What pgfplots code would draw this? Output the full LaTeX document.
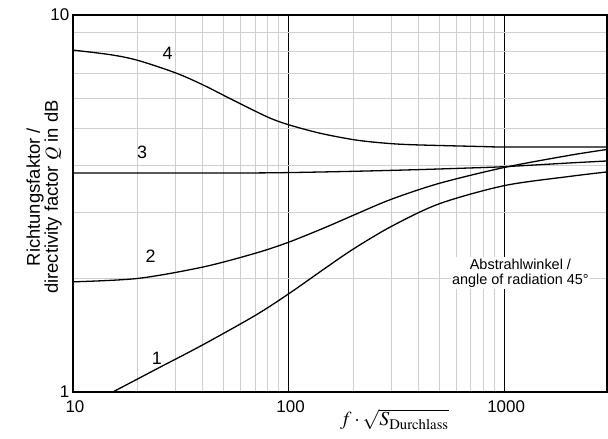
\documentclass[border=0pt]{standalone}
\usepackage{mathptmx}
\usepackage[no-math]{fontspec}
\setmainfont{Liberation Sans}
\usepackage{pgfplots}
\pgfplotsset{compat=1.18}
\begin{document}
\begin{tikzpicture}
\begin{axis}[
  name=ax,
  scale only axis, width=534bp, height=377bp,
  xmode=log, ymode=log,
  xmin=10, xmax=3000, ymin=1, ymax=10,
  xtick={10,100,1000}, xticklabels={10,100,1000},
  ytick={1,10}, yticklabels={1,10},
  /pgf/number format/assume math mode=true,
  major tick length=0pt, minor tick length=0pt,
  grid=both,
  major grid style={black, line width=1.2bp},
  minor grid style={black!19, line width=0.8bp},
  axis line style={line width=1.4bp},
  tick label style={font=\fontsize{17}{17}\selectfont, inner sep=1.5bp},
  xticklabel style={yshift=-7bp, xshift=2bp},
  yticklabel style={xshift=-2bp},
  xlabel={$f\cdot\sqrt{S_{\mathrm{Durchlass}}}$},
  xlabel style={at={(axis description cs:0.5,0)}, anchor=north west, inner sep=0pt, yshift=-17bp, font=\fontsize{20}{20}\selectfont},
  ylabel={Richtungsfaktor /\\directivity factor $Q$ in dB},
  ylabel style={at={(axis description cs:-0.0206,0.517)}, anchor=south, inner sep=0pt, align=center, font=\fontsize{18.5}{17}\selectfont},
  curve/.style={black, line width=1.3bp, smooth, tension=0.5, mark=none},
]
% curve 1
\addplot[curve] coordinates {(15.3,1.0) (25,1.159) (40,1.334) (70,1.596) (100,1.821) (150,2.142) (200,2.396) (300,2.750) (500,3.157) (1000,3.527) (2000,3.73) (3000,3.835)};
% curve 2
\addplot[curve] coordinates {(10,1.96) (20,2.001) (40,2.145) (70,2.333) (100,2.496) (150,2.741) (200,2.944) (300,3.246) (500,3.577) (1000,3.941) (2000,4.242) (3000,4.399)};
% curve 3
\addplot[curve] coordinates {(10,3.81) (30,3.81) (60,3.81) (100,3.82) (200,3.85) (400,3.89) (700,3.93) (1000,3.96) (2000,4.05) (3000,4.10)};
% curve 4
\addplot[curve] coordinates {(10,8.07) (15,7.845) (20,7.58) (30,7.018) (40,6.53) (55,5.955) (80,5.361) (100,5.116) (140,4.857) (200,4.67) (270,4.58) (370,4.529) (800,4.477) (1000,4.467) (3000,4.467)};
\node[font=\fontsize{18}{18}\selectfont] at (axis cs:27.5,7.93) {4};
\node[font=\fontsize{18}{18}\selectfont] at (axis cs:20.9,4.33) {3};
\node[font=\fontsize{18}{18}\selectfont] at (axis cs:22.9,2.29) {2};
\node[font=\fontsize{18}{18}\selectfont] at (axis cs:24.5,1.23) {1};
\node[fill=white, inner sep=1.5bp, align=center, font=\fontsize{14.5}{15}\selectfont] at (axis cs:1190,2.07) {Abstrahlwinkel /\\angle of radiation 45°};
\end{axis}
\pgfresetboundingbox
\path[use as bounding box] ([xshift=-73bp,yshift=-47bp]ax.south west) rectangle ([xshift=1bp,yshift=15bp]ax.north east);
\end{tikzpicture}
\end{document}
